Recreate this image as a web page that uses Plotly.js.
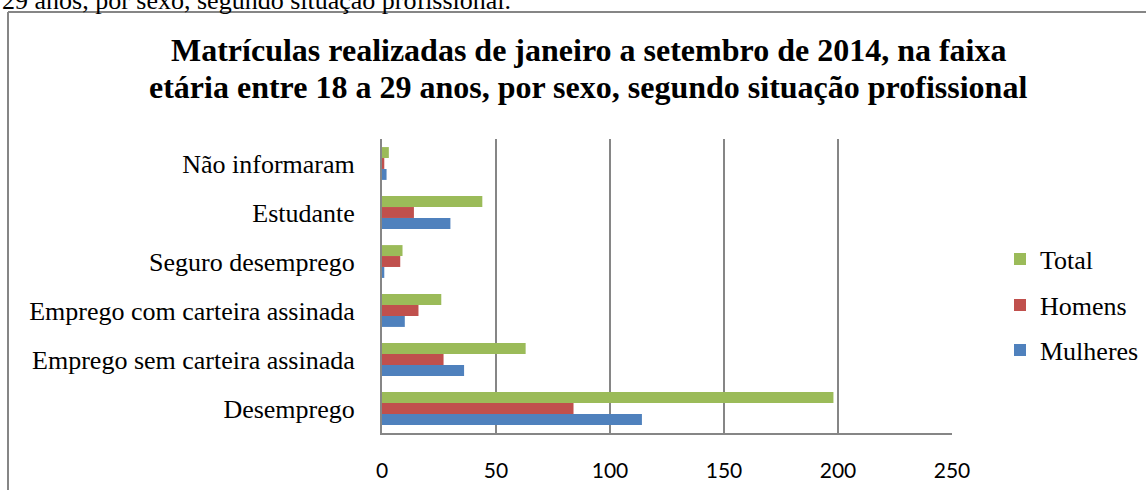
<!DOCTYPE html>
<html>
<head>
<meta charset="utf-8">
<script src="https://cdn.plot.ly/plotly-3.0.1.min.js"></script>
<style>html,body{margin:0;padding:0;background:#fff;overflow:hidden}#chart{width:1146px;height:490px}</style>
</head>
<body>
<div id="chart"></div>
<script>
const categories = ["Desemprego", "Emprego sem carteira assinada", "Emprego com carteira assinada", "Seguro desemprego", "Estudante", "Não informaram"];
const mulheres = [114, 36, 10, 1, 30, 2];
const homens = [84, 27, 16, 8, 14, 1];
const total = [198, 63, 26, 9, 44, 3];
const xTicks = [0, 50, 100, 150, 200, 250];
const titleLines = ["Matrículas realizadas de janeiro a setembro de 2014, na faixa", "etária entre 18 a 29 anos, por sexo, segundo situação profissional"];
const topText = "29 anos, por sexo, segundo situação profissional.";

const W = 1146, H = 490;
const L = 382, R = 952, T = 139, B = 433;
const px = x => (x - L) / (R - L);
const py = y => (B - y) / (B - T);

const serif = "Liberation Serif, Times New Roman, serif";

const series = [
  {name: "Mulheres", x: mulheres, color: "#4F81BD", legend: "legend3", ly: 350},
  {name: "Homens", x: homens, color: "#C0504D", legend: "legend2", ly: 305},
  {name: "Total", x: total, color: "#9BBB59", legend: "legend", ly: 259}
];
const traces = series.map(s => ({
  type: "bar", orientation: "h", name: s.name, x: s.x, y: categories,
  legend: s.legend, showlegend: true,
  marker: {color: s.color, line: {width: 0}},
  hoverinfo: "x+name"
}));

const annotations = titleLines.map((t, i) => ({
  text: "<b>" + t + "</b>", xref: "paper", yref: "paper",
  x: px(588), xanchor: "center", y: py(50 + 37 * i), yanchor: "middle", showarrow: false,
  font: {family: serif, size: 32, color: "#000"}
}));
annotations.push({
  text: topText, xref: "paper", yref: "paper",
  x: px(0), xanchor: "left", y: py(0), yanchor: "middle", showarrow: false,
  font: {family: serif, size: 26, color: "#000"}
});

const layout = {
  width: W, height: H,
  showlegend: true,
  margin: {l: L, r: W - R, t: T, b: H - B, pad: 0, autoexpand: false},
  paper_bgcolor: "#fff", plot_bgcolor: "#fff",
  barmode: "group", bargap: 0.33, bargroupgap: 0,
  xaxis: {
    range: [0, 250], tickvals: xTicks, ticktext: xTicks.map(String),
    showgrid: true, gridcolor: "#868686", gridwidth: 2,
    showline: true, linecolor: "#868686", linewidth: 2,
    zeroline: false, ticks: "", ticklabelstandoff: 18,
    tickfont: {family: "Lato, Liberation Sans, sans-serif", size: 21, color: "#000"},
    fixedrange: true
  },
  yaxis: {
    type: "category", categoryarray: categories, categoryorder: "array",
    showline: true, linecolor: "#868686", linewidth: 2,
    showgrid: false, zeroline: false, ticks: "", ticklabelstandoff: 20,
    tickfont: {family: serif, size: 26, color: "#000"},
    fixedrange: true
  },
  shapes: [
    {type: "line", xref: "paper", yref: "paper", x0: px(8), x1: px(8), y0: py(12), y1: py(520), line: {color: "#868686", width: 2}},
    {type: "line", xref: "paper", yref: "paper", x0: px(8), x1: px(1200), y0: py(12), y1: py(12), line: {color: "#868686", width: 2}}
  ],
  annotations: annotations
};
series.forEach(s => {
  layout[s.legend] = {
    visible: true,
    x: px(1000), xanchor: "left", y: py(s.ly), yanchor: "middle",
    font: {family: serif, size: 26, color: "#000"},
    bgcolor: "rgba(0,0,0,0)", borderwidth: 0
  };
});

Plotly.newPlot("chart", traces, layout, {displayModeBar: false, staticPlot: true});
</script>
</body>
</html>
